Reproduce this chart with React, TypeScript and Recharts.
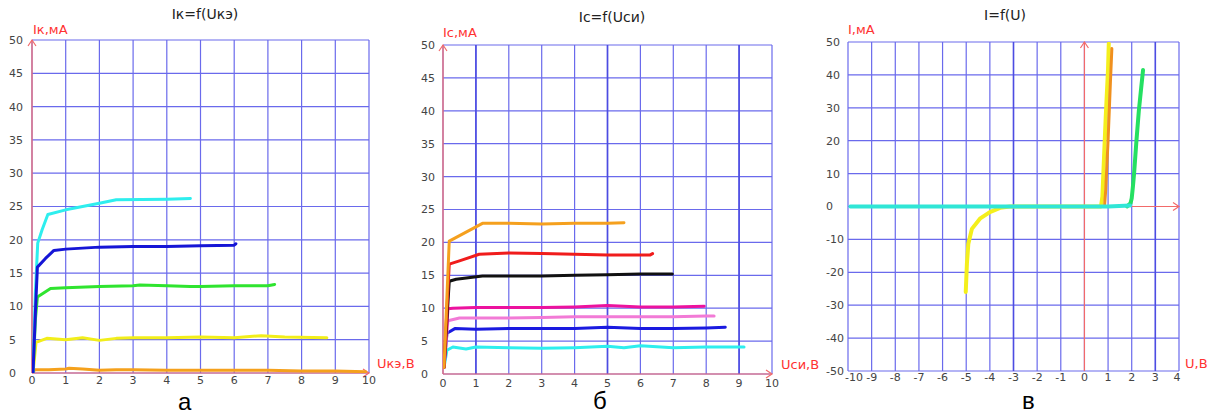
import React from 'react';
import { LineChart, Line, XAxis, YAxis, CartesianGrid, ReferenceLine } from 'recharts';

// ---------- Chart а : Iк = f(Uкэ) ----------
const aXTicks = [0, 1, 2, 3, 4, 5, 6, 7, 8, 9, 10];
const aYTicks = [0, 5, 10, 15, 20, 25, 30, 35, 40, 45, 50];
const aOrange = [
  { x: 0.02, y: 0.2 }, { x: 0.1, y: 0.5 }, { x: 0.5, y: 0.5 }, { x: 1, y: 0.6 }, { x: 1.1, y: 0.7 },
  { x: 1.5, y: 0.6 }, { x: 2, y: 0.4 }, { x: 2.5, y: 0.5 }, { x: 3, y: 0.5 }, { x: 4, y: 0.4 },
  { x: 5, y: 0.4 }, { x: 6, y: 0.4 }, { x: 7, y: 0.4 }, { x: 8, y: 0.3 }, { x: 9, y: 0.3 }, { x: 9.9, y: 0.2 },
];
const aYellow = [
  { x: 0.03, y: 0 }, { x: 0.12, y: 4.6 }, { x: 0.44, y: 5.2 }, { x: 1, y: 5.0 }, { x: 1.5, y: 5.3 },
  { x: 2, y: 4.9 }, { x: 2.5, y: 5.2 }, { x: 3, y: 5.3 }, { x: 4, y: 5.3 }, { x: 5, y: 5.4 },
  { x: 6, y: 5.3 }, { x: 6.8, y: 5.6 }, { x: 7.5, y: 5.4 }, { x: 8.75, y: 5.3 },
];
const aGreen = [
  { x: 0.03, y: 0 }, { x: 0.1, y: 8 }, { x: 0.16, y: 11.4 }, { x: 0.55, y: 12.7 }, { x: 1, y: 12.8 },
  { x: 2, y: 13 }, { x: 3, y: 13.1 }, { x: 3.2, y: 13.2 }, { x: 4, y: 13.1 }, { x: 4.7, y: 13 },
  { x: 5, y: 13 }, { x: 6, y: 13.1 }, { x: 7, y: 13.1 }, { x: 7.2, y: 13.3 },
];
const aCyan = [
  { x: 0.03, y: 0 }, { x: 0.1, y: 12 }, { x: 0.17, y: 19.5 }, { x: 0.3, y: 21.5 }, { x: 0.47, y: 23.8 },
  { x: 1, y: 24.5 }, { x: 2, y: 25.5 }, { x: 2.5, y: 26 }, { x: 4, y: 26.1 }, { x: 4.7, y: 26.2 },
];
const aBlue = [
  { x: 0.03, y: 0 }, { x: 0.1, y: 9 }, { x: 0.16, y: 15.9 }, { x: 0.4, y: 17.2 }, { x: 0.65, y: 18.4 },
  { x: 1, y: 18.6 }, { x: 2, y: 18.9 }, { x: 3, y: 19 }, { x: 4, y: 19 }, { x: 5, y: 19.1 },
  { x: 6, y: 19.2 }, { x: 6.05, y: 19.4 },
];

// ---------- Chart б : Iс = f(Uси) ----------
const bXTicks = [0, 1, 2, 3, 4, 5, 6, 7, 8, 9, 10];
const bYTicks = [0, 5, 10, 15, 20, 25, 30, 35, 40, 45, 50];
const bCyan = [
  { x: 0.03, y: 1 }, { x: 0.12, y: 3.6 }, { x: 0.3, y: 4.1 }, { x: 0.7, y: 3.8 }, { x: 1, y: 4.1 },
  { x: 2, y: 4 }, { x: 3, y: 3.9 }, { x: 4, y: 4 }, { x: 5, y: 4.2 }, { x: 5.5, y: 4 },
  { x: 6, y: 4.3 }, { x: 7, y: 4 }, { x: 8, y: 4.1 }, { x: 9.15, y: 4.1 },
];
const bBlue = [
  { x: 0.03, y: 1 }, { x: 0.12, y: 6.2 }, { x: 0.36, y: 6.9 }, { x: 1, y: 6.8 }, { x: 2, y: 6.9 },
  { x: 3, y: 6.9 }, { x: 4, y: 6.9 }, { x: 5, y: 7.1 }, { x: 6, y: 6.9 }, { x: 7, y: 6.9 },
  { x: 8, y: 7 }, { x: 8.58, y: 7.1 },
];
const bPink = [
  { x: 0.03, y: 1 }, { x: 0.15, y: 8.1 }, { x: 0.5, y: 8.5 }, { x: 1, y: 8.5 }, { x: 2, y: 8.5 },
  { x: 3, y: 8.6 }, { x: 4, y: 8.7 }, { x: 5, y: 8.7 }, { x: 6, y: 8.7 }, { x: 7, y: 8.7 },
  { x: 8, y: 8.8 }, { x: 8.24, y: 8.8 },
];
const bMagenta = [
  { x: 0.03, y: 1 }, { x: 0.15, y: 9.9 }, { x: 0.3, y: 10 }, { x: 1, y: 10.1 }, { x: 2, y: 10.1 },
  { x: 3, y: 10.1 }, { x: 4, y: 10.2 }, { x: 5, y: 10.4 }, { x: 6, y: 10.2 }, { x: 7, y: 10.2 },
  { x: 7.94, y: 10.3 },
];
const bBlack = [
  { x: 0.03, y: 1 }, { x: 0.19, y: 14.1 }, { x: 0.4, y: 14.4 }, { x: 1.2, y: 14.9 }, { x: 2, y: 14.9 },
  { x: 3, y: 14.9 }, { x: 4, y: 15 }, { x: 5, y: 15.1 }, { x: 6, y: 15.2 }, { x: 6.97, y: 15.2 },
];
const bRed = [
  { x: 0.03, y: 1 }, { x: 0.19, y: 16.7 }, { x: 0.5, y: 17.2 }, { x: 1.1, y: 18.2 }, { x: 2, y: 18.4 },
  { x: 3, y: 18.3 }, { x: 4, y: 18.2 }, { x: 5, y: 18.1 }, { x: 6.3, y: 18.1 }, { x: 6.37, y: 18.3 },
];
const bOrange = [
  { x: 0.03, y: 1 }, { x: 0.19, y: 20.2 }, { x: 1.2, y: 22.9 }, { x: 2, y: 22.9 }, { x: 3, y: 22.8 },
  { x: 4, y: 22.9 }, { x: 5, y: 22.9 }, { x: 5.5, y: 23 },
];

// ---------- Chart в : I = f(U) ----------
const cXTicks = [-10, -9, -8, -7, -6, -5, -4, -3, -2, -1, 0, 1, 2, 3, 4];
const cYTicks = [-50, -40, -30, -20, -10, 0, 10, 20, 30, 40, 50];
const cYellow = [
  { x: -5.02, y: -26 }, { x: -4.97, y: -17.3 }, { x: -4.91, y: -11.3 }, { x: -4.76, y: -6.8 },
  { x: -4.42, y: -3.7 }, { x: -4.0, y: -1.7 }, { x: -3.57, y: -0.4 }, { x: -3.15, y: 0 },
  { x: 0.7, y: 0 }, { x: 0.76, y: 3 }, { x: 0.8, y: 10 }, { x: 0.9, y: 27 }, { x: 1.0, y: 42 }, { x: 1.03, y: 49.5 },
];
const cOrange = [
  { x: 0.85, y: 0 }, { x: 0.9, y: 5 }, { x: 1.0, y: 20 }, { x: 1.1, y: 38 }, { x: 1.16, y: 48 },
];
const cGreen = [
  { x: 1.8, y: 0 }, { x: 1.95, y: 1 }, { x: 2.0, y: 2.5 }, { x: 2.05, y: 6 }, { x: 2.1, y: 10 },
  { x: 2.2, y: 20 }, { x: 2.3, y: 29 }, { x: 2.4, y: 36 }, { x: 2.48, y: 41.5 },
];
const cCyan = [
  { x: -9.9, y: 0 }, { x: -8, y: 0 }, { x: -6, y: 0 }, { x: -4, y: 0 }, { x: -2, y: 0 },
  { x: 0, y: 0 }, { x: 1, y: 0 }, { x: 1.93, y: 0.3 },
];

const TICK_FONT = 'DejaVu Sans, sans-serif';
const GRID = '#6a6aec';
const GRID_STRONG = '#4c4ce2';
const AXIS_RED = '#f26a6a';

const xTickStyle = { fontSize: 11, fill: '#444', fontFamily: TICK_FONT };
const yTickStyle = { fontSize: 11, fill: '#444', fontFamily: TICK_FONT, textAnchor: 'start' };

const CXTick = (props: any) => {
  const { x, y, payload } = props;
  const shift = payload.value === -10 ? 6 : payload.value === 4 ? -2 : 0;
  return (
    <text x={x + shift} y={y} dy="0.71em" textAnchor="middle" fontSize={11} fill="#444" fontFamily={TICK_FONT}>
      {payload.value}
    </text>
  );
};

const VArrowLine = (props: any) => {
  const { x1, y1, x2, y2 } = props;
  const top = Math.min(y1, y2);
  return (
    <g>
      <line x1={x1} y1={y1} x2={x2} y2={y2} stroke={AXIS_RED} strokeWidth={1.2} />
      <path d={`M${x1 - 4},${top + 6} L${x1},${top} L${x1 + 4},${top + 6}`} fill="none" stroke={AXIS_RED} strokeWidth={1.2} />
    </g>
  );
};

const HArrowLine = (props: any) => {
  const { x1, y1, x2, y2 } = props;
  const right = Math.max(x1, x2);
  return (
    <g>
      <line x1={x1} y1={y1} x2={x2} y2={y2} stroke={AXIS_RED} strokeWidth={1.2} />
      <path d={`M${right - 6},${y1 - 4} L${right},${y1} L${right - 6},${y1 + 4}`} fill="none" stroke={AXIS_RED} strokeWidth={1.2} />
    </g>
  );
};

const ser = (data: any[], color: string, w = 3) => (
  <Line
    data={data}
    dataKey="y"
    type="linear"
    stroke={color}
    strokeWidth={w}
    dot={false}
    isAnimationActive={false}
    strokeLinejoin="round"
    strokeLinecap="round"
  />
);

export default function App() {
  return (
    <div style={{ position: 'absolute', left: 0, top: 0, width: 1211, height: 416, background: '#fff', overflow: 'hidden' }}>
      {/* Chart а */}
      <div style={{ position: 'absolute', left: 0, top: 0 }}>
        <LineChart width={380} height={400} margin={{ top: 40, right: 11, bottom: 7, left: 2 }}>
          <CartesianGrid stroke={GRID} strokeWidth={1.2} />
          <XAxis type="number" dataKey="x" domain={[0, 10]} ticks={aXTicks} interval={0} allowDataOverflow
            axisLine={false} tickLine={false} tickSize={0} tickMargin={3} height={20} tick={xTickStyle} />
          <YAxis type="number" domain={[0, 50]} ticks={aYTicks} interval={0} allowDataOverflow
            axisLine={false} tickLine={false} tickSize={0} tickMargin={23} width={30} tick={yTickStyle} />
          <ReferenceLine x={0} shape={VArrowLine} />
          <ReferenceLine y={0} shape={HArrowLine} />
          {ser(aOrange, '#f5a11c', 3)}
          {ser(aYellow, '#f2ee1a', 3)}
          {ser(aGreen, '#2fe42f', 3)}
          {ser(aCyan, '#2eeeee', 3)}
          {ser(aBlue, '#1515d6', 3)}
        </LineChart>
      </div>

      {/* Chart б */}
      <div style={{ position: 'absolute', left: 400, top: 0 }}>
        <LineChart width={385} height={400} margin={{ top: 45, right: 13, bottom: 6, left: 13 }}>
          <CartesianGrid stroke={GRID} strokeWidth={1.2} />
          <XAxis type="number" dataKey="x" domain={[0, 10]} ticks={bXTicks} interval={0} allowDataOverflow
            axisLine={false} tickLine={false} tickSize={0} tickMargin={5} height={20} tick={xTickStyle} />
          <YAxis type="number" domain={[0, 50]} ticks={bYTicks} interval={0} allowDataOverflow
            axisLine={false} tickLine={false} tickSize={0} tickMargin={22} width={30} tick={yTickStyle} />
          <ReferenceLine x={1} stroke={GRID_STRONG} strokeWidth={1.6} />
          <ReferenceLine x={5} stroke={GRID_STRONG} strokeWidth={1.6} />
          <ReferenceLine x={9} stroke={GRID_STRONG} strokeWidth={1.6} />
          <ReferenceLine x={0} shape={VArrowLine} />
          <ReferenceLine y={0} shape={HArrowLine} />
          {ser(bCyan, '#2eeeee', 3)}
          {ser(bBlue, '#1a1ae0', 3)}
          {ser(bPink, '#f27ad6', 3)}
          {ser(bMagenta, '#ec129e', 3)}
          {ser(bBlack, '#111111', 3)}
          {ser(bRed, '#f01c1c', 3)}
          {ser(bOrange, '#f5a01e', 3)}
        </LineChart>
      </div>

      {/* Chart в */}
      <div style={{ position: 'absolute', left: 800, top: 0 }}>
        <LineChart width={411} height={400} margin={{ top: 42, right: 32, bottom: 9, left: 18 }}>
          <CartesianGrid stroke={GRID} strokeWidth={1.2} />
          <XAxis type="number" dataKey="x" domain={[-10, 4]} ticks={cXTicks} interval={0} allowDataOverflow
            axisLine={false} tickLine={false} tickSize={0} tickMargin={2} height={20} tick={CXTick} />
          <YAxis type="number" domain={[-50, 50]} ticks={cYTicks} interval={0} allowDataOverflow
            axisLine={false} tickLine={false} tickSize={0} tickMargin={22} width={30} tick={yTickStyle} />
          <ReferenceLine x={-3} stroke={GRID_STRONG} strokeWidth={1.5} />
          <ReferenceLine x={3} stroke={GRID_STRONG} strokeWidth={1.5} />
          <ReferenceLine x={0} shape={VArrowLine} />
          <ReferenceLine segment={[{ x: 0, y: 0 }, { x: 4, y: 0 }]} shape={HArrowLine} />
          {ser(cYellow, '#f4ef1c', 4)}
          {ser(cOrange, '#f0901e', 3)}
          {ser(cGreen, '#25e062', 4)}
          {ser(cCyan, '#30e6d6', 4)}
        </LineChart>
      </div>

      {/* Titles and labels */}
      <svg width={1211} height={416} style={{ position: 'absolute', left: 0, top: 0, pointerEvents: 'none' }}>
        <g fontFamily="DejaVu Sans, sans-serif" fontSize={14} fill="#222" textAnchor="middle">
          <text x={205} y={19}>Iк=f(Uкэ)</text>
          <text x={612} y={22}>Iс=f(Uси)</text>
          <text x={1005} y={20}>I=f(U)</text>
        </g>
        <g fontFamily="DejaVu Sans, sans-serif" fontSize={13} fill="#ff3232">
          <text x={33} y={34}>Iк,мА</text>
          <text x={443} y={37}>Iс,мА</text>
          <text x={848} y={34}>I,мА</text>
          <text x={377} y={368}>Uкэ,В</text>
          <text x={781} y={369}>Uси,В</text>
          <text x={1185} y={368}>U,В</text>
        </g>
        <g fontFamily="Liberation Sans, Arial, sans-serif" fontSize={24} fill="#000">
          <text x={178} y={410}>а</text>
          <text x={593} y={409}>б</text>
          <text x={1022} y={409}>в</text>
        </g>
      </svg>
    </div>
  );
}
